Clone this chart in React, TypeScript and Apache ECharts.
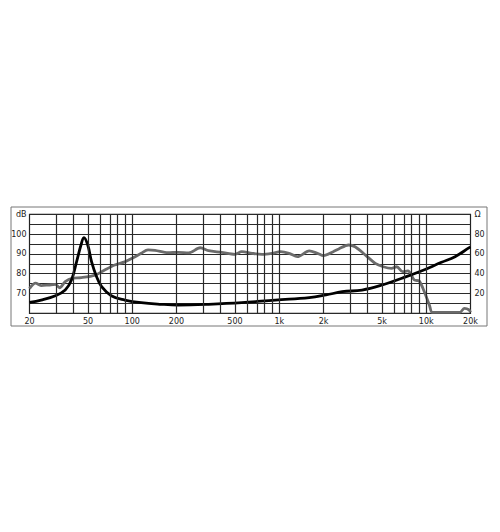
import { useEffect, useRef } from 'react'
import * as echarts from 'echarts'

// Frequency response (dB, gray) and impedance (Ω, black) of the driver
const splFreqs = [
  20, 22, 24, 27, 30, 32, 35, 39, 45, 56, 65, 76, 89, 100, 115, 128, 143, 175, 205, 242, 290, 330, 405,
  500, 556, 652, 764, 894, 1020, 1165, 1330, 1600, 1820, 2000, 2330, 2540, 2960, 3280, 3860, 4500, 5100,
  5800, 6300, 6900, 7500, 8300, 8950, 9700, 10500, 11000, 13000, 16900, 18200, 19500, 20000,
]
const splValues = [
  72.5, 75.2, 74, 74.3, 74.6, 72.9, 76, 77.7, 78, 79.3, 81.9, 84.4, 86, 87.8, 90.3, 92, 91.8, 90.6, 90.8,
  90.5, 93.1, 91.6, 90.8, 89.8, 91.1, 90.3, 89.8, 90.3, 91.1, 90.3, 88.6, 91.5, 90.3, 89.1, 91.1, 92.5,
  94.5, 93.6, 89.4, 85.2, 83.5, 82.7, 83.5, 81, 81.4, 76.8, 76.3, 70.9, 64.2, 60.5, 60.5, 60.5, 62.5, 61.8,
  60.5,
]
const impFreqs = [
  20, 24, 30, 35, 38.6, 41.8, 44.8, 46.9, 49.8, 52.9, 57.2, 61.9, 72, 89, 115, 158, 205, 330, 556, 940,
  1600, 2080, 2680, 3660, 5020, 6830, 9250, 12700, 15700, 19600, 20000,
]
const impValues = [
  11, 13.4, 17.8, 23.5, 33.6, 52, 69, 76.5, 69, 52, 37, 26.9, 17.8, 13.4, 10.7, 9.1, 8.4, 9.1, 10.7, 13.4,
  15.8, 18.5, 21.8, 23.5, 28.6, 35.4, 42.7, 51.5, 57.2, 66.3, 67,
]

// log-spaced vertical grid lines and the x tick labels
const gridFreqs = [
  30, 40, 50, 60, 70, 80, 90, 100, 200, 300, 400, 500, 600, 700, 800, 900, 1000, 2000, 3000, 4000, 5000,
  6000, 7000, 8000, 9000, 10000,
]
const xLabelFreqs = [20, 50, 100, 200, 500, 1000, 2000, 5000, 10000, 20000]
const xLabelTexts = ['20', '50', '100', '200', '500', '1k', '2k', '5k', '10k', '20k']

const font = { fontFamily: 'DejaVu Sans', fontSize: 8, color: '#222' }

export default function App() {
  const elRef = useRef<HTMLDivElement>(null)

  useEffect(() => {
    document.body.style.margin = '0'
    if (!elRef.current) return
    const chart = echarts.init(elRef.current, undefined, { renderer: 'svg' })
    const lg = Math.log10
    const toLabel = (v: number) => {
      const i = xLabelFreqs.findIndex((f) => Math.abs(lg(f) - v) < 1e-6)
      return i >= 0 ? xLabelTexts[i] : ''
    }
    chart.setOption({
      animation: false,
      backgroundColor: '#fff',
      graphic: [
        {
          type: 'rect',
          shape: { x: 11, y: 207, width: 476, height: 119 },
          style: { fill: 'none', stroke: '#777', lineWidth: 1 },
          silent: true,
        },
      ],
      grid: {
        left: 29.5,
        right: 29.5,
        top: 214.3,
        bottom: 218.7,
        show: true,
        borderColor: '#222',
        borderWidth: 1.2,
        backgroundColor: 'transparent',
      },
      xAxis: {
        type: 'value',
        min: lg(20),
        max: lg(20000),
        axisLine: { show: false },
        axisTick: { show: false },
        splitLine: { show: false },
        axisLabel: {
          ...font,
          margin: 4,
          customValues: xLabelFreqs.map(lg),
          formatter: (v: number) => toLabel(v),
        },
      },
      yAxis: [
        {
          type: 'value',
          min: 60,
          max: 110,
          interval: 5,
          axisLine: { show: false },
          axisTick: { show: false },
          splitLine: { lineStyle: { color: '#2a2a2a', width: 1.2 } },
          axisLabel: {
            ...font,
            margin: 3,
            showMinLabel: true,
            showMaxLabel: true,
            formatter: (v: number) => (v === 110 ? 'dB' : v % 10 === 0 && v >= 70 && v <= 100 ? String(v) : ''),
          },
        },
        {
          type: 'value',
          min: 0,
          max: 100,
          interval: 10,
          position: 'right',
          axisLine: { show: false },
          axisTick: { show: false },
          splitLine: { show: false },
          axisLabel: {
            ...font,
            margin: 4,
            showMaxLabel: true,
            formatter: (v: number) => (v === 100 ? 'Ω' : v % 20 === 0 && v > 0 && v < 100 ? String(v) : ''),
          },
        },
      ],
      series: [
        {
          name: 'grid',
          type: 'line',
          data: [],
          z: 1,
          silent: true,
          markLine: {
            silent: true,
            symbol: 'none',
            label: { show: false },
            lineStyle: { color: '#2a2a2a', width: 1.2, type: 'solid' },
            data: gridFreqs.map((f) => ({ xAxis: lg(f) })),
          },
        },
        {
          name: 'SPL',
          type: 'line',
          yAxisIndex: 0,
          z: 3,
          showSymbol: false,
          smooth: 0.3,
          lineStyle: { color: '#6b6b6b', width: 2.8 },
          data: splFreqs.map((f, i) => [lg(f), splValues[i]]),
        },
        {
          name: 'Impedance',
          type: 'line',
          yAxisIndex: 1,
          z: 4,
          showSymbol: false,
          smooth: 0.4,
          lineStyle: { color: '#000', width: 2.8 },
          data: impFreqs.map((f, i) => [lg(f), impValues[i]]),
        },
      ],
    })
    return () => chart.dispose()
  }, [])

  return <div ref={elRef} style={{ width: 500, height: 532 }} />
}
